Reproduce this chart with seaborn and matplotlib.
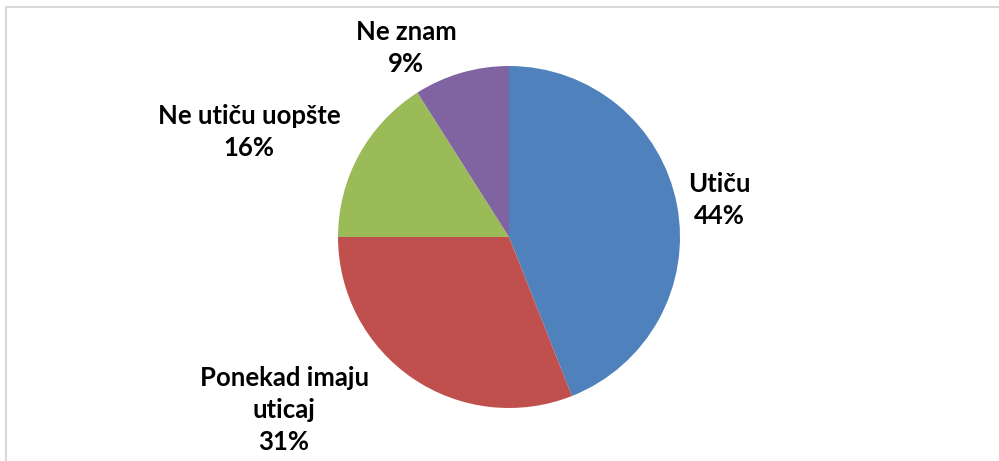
import numpy as np
import matplotlib
matplotlib.use("Agg")
import matplotlib.pyplot as plt
import seaborn as sns
from matplotlib.patches import Rectangle

# podaci
kategorije = ["Utiču", "Ponekad imaju\nuticaj", "Ne utiču uopšte", "Ne znam"]
procenti = [44, 31, 16, 9]
boje = ["#4F81BD", "#C0504D", "#9BBB59", "#8064A2"]

# pozicije natpisa (ugao u stepenima, udaljenost kao dio poluprecnika)
natpis_ugao = [9.9, -142.4, 158.0, 118.5]
natpis_r = [1.25, 1.66, 1.64, 1.26]

sns.set_theme(style="white")
plt.rcParams["font.family"] = ["Lato", "DejaVu Sans"]

fig = plt.figure(figsize=(9.99, 4.61), dpi=100)
ax = fig.add_axes([0, 0, 1, 1])

centar = (509, 224)
R = 171
paleta = sns.color_palette(boje)
ax.pie(procenti, colors=paleta, startangle=90, counterclock=False,
       center=centar, radius=R, frame=True,
       wedgeprops=dict(linewidth=0))
ax.set_xlim(0, 999)
ax.set_ylim(0, 461)
ax.set_aspect("equal")
ax.axis("off")

for kat, p, ug, r in zip(kategorije, procenti, natpis_ugao, natpis_r):
    x = centar[0] + r * R * np.cos(np.radians(ug))
    y = centar[1] + r * R * np.sin(np.radians(ug))
    ax.text(x, y, f"{kat}\n{p}%", ha="center", va="center", fontsize=18.5,
            fontweight="bold", color="black", linespacing=1.4)

# okvir grafikona
fig.patches.append(Rectangle((6 / 999, -0.1), 1.2, (461 - 7) / 461 + 0.1,
                             transform=fig.transFigure, fill=False,
                             edgecolor="#D9D9D9", linewidth=1.5))

plt.savefig("out.png", dpi=100)
